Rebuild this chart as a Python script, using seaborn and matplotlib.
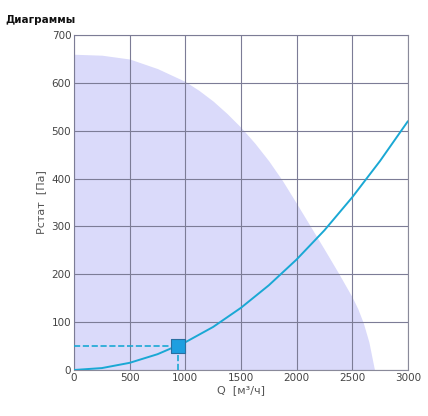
import numpy as np
import pandas as pd
import matplotlib
matplotlib.use("Agg")
import matplotlib.pyplot as plt
import seaborn as sns

# fan working area (upper boundary)
fan_q = [0, 250, 500, 750, 1000, 1125, 1250, 1375, 1500, 1625, 1750, 1875, 2000,
         2125, 2250, 2375, 2500, 2550, 2600, 2650, 2700]
fan_p = [660, 658, 650, 630, 603, 584, 562, 536, 507, 474, 437, 395, 348,
         300, 252, 203, 152, 128, 98, 58, 0]

# system curve
sys_q = [0, 250, 500, 750, 1000, 1250, 1500, 1750, 2000, 2250, 2500, 2750, 3000]
sys_p = [0, 4, 15, 33, 58, 90, 130, 177, 231, 292, 361, 437, 520]

# operating point
op_q = [930]
op_p = [50]

x_ticks = [0, 500, 1000, 1500, 2000, 2500, 3000]
y_ticks = [0, 100, 200, 300, 400, 500, 600, 700]

sns.set_style("white")
plt.rcParams['font.family'] = ['DejaVu Sans']

fig = plt.figure(figsize=(4.28, 4.16), dpi=100)
ax = fig.add_axes([0.173, 0.1106, 0.78, 0.805])

ax.fill_between(fan_q, fan_p, 0, color="#dadafa", lw=0, zorder=1)

df_sys = pd.DataFrame({"Q": sys_q, "P": sys_p})
sns.lineplot(data=df_sys, x="Q", y="P", ax=ax, color="#1aa8d4", lw=1.4, zorder=4)

# dashed guides to the operating point
ax.plot([0, op_q[0]], [op_p[0], op_p[0]], ls="--", color="#1aa8d4", lw=1.2, zorder=3)
ax.plot([op_q[0], op_q[0]], [0, op_p[0]], ls="--", color="#1aa8d4", lw=1.2, zorder=3)

df_op = pd.DataFrame({"Q": op_q, "P": op_p})
sns.scatterplot(data=df_op, x="Q", y="P", ax=ax, marker="s", s=105,
                color="#1e9fe0", edgecolor="#2a6fa0", linewidth=0.8, zorder=5)

ax.set_xlim(0, 3000)
ax.set_ylim(0, 700)
ax.set_xticks(x_ticks)
ax.set_yticks(y_ticks)
ax.grid(True, color="#7c7c96", lw=0.8, zorder=2)
ax.set_axisbelow(False)
for s in ax.spines.values():
    s.set_color("#8a8a9a")
    s.set_linewidth(0.8)
ax.tick_params(labelsize=7.5, colors="#444444", length=0, pad=2)

ax.set_xlabel("Q  [м³/ч]", fontsize=8, color="#555555", labelpad=2)
ax.set_ylabel("Pстат  [Па]", fontsize=8, color="#555555", labelpad=4)

fig.text(0.012, 0.945, "Диаграммы", fontsize=7.5, fontweight="bold", color="#111111")

fig.savefig("out.png", dpi=100)
